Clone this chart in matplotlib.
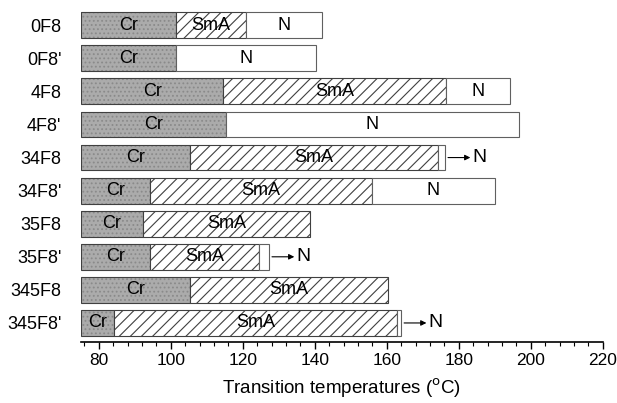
import matplotlib
matplotlib.use('Agg')
import matplotlib.pyplot as plt
from matplotlib.ticker import MultipleLocator

plt.rcParams['font.family'] = ['Liberation Sans', 'DejaVu Sans']
plt.rcParams['hatch.linewidth'] = 0.8

# compounds, top to bottom
compounds = ["0F8", "0F8'", "4F8", "4F8'", "34F8", "34F8'", "35F8", "35F8'", "345F8", "345F8'"]
# transition temperatures (deg C): end of Cr, end of SmA, end of N (None = phase absent)
cr_end = [101.4, 101.4, 114.6, 115.4, 105.4, 94.2, 92.3, 94.2, 105.3, 84.2]
sma_end = [121.0, None, 176.4, None, 174.2, 155.9, 138.7, 124.5, 160.2, 162.7]
n_end = [141.9, 140.2, 194.3, 196.6, 176.2, 190.0, None, 127.3, None, 164.0]
# short N range shown with an arrow label
arrow_n = [False, False, False, False, True, False, False, True, False, True]
show_n_text = [True, True, True, True, False, True, False, False, False, False]

x_start = 75

fig = plt.figure(figsize=(6.17, 4.03), dpi=100)
ax = fig.add_axes([0.131, 0.151, 0.846, 0.834])

h = 0.78
edge = '#404040'
for i, name in enumerate(compounds):
    # Cr segment
    ax.barh(i, cr_end[i] - x_start, left=x_start, height=h, color='#ababab',
            edgecolor='#8a8a8a', hatch='....', linewidth=0)
    ax.barh(i, cr_end[i] - x_start, left=x_start, height=h, fill=False,
            edgecolor=edge, linewidth=0.8)
    ax.text((x_start + cr_end[i]) / 2, i, 'Cr', ha='center', va='center', fontsize=13)
    last = cr_end[i]
    if sma_end[i] is not None:
        ax.barh(i, sma_end[i] - last, left=last, height=h, color='white',
                edgecolor=edge, hatch='///', linewidth=0.8)
        ax.text((last + sma_end[i]) / 2, i, 'SmA', ha='center', va='center', fontsize=13)
        last = sma_end[i]
    if n_end[i] is not None:
        ax.barh(i, n_end[i] - last, left=last, height=h, color='white',
                edgecolor='#606060', linewidth=0.8)
        if show_n_text[i]:
            ax.text((last + n_end[i]) / 2, i, 'N', ha='center', va='center', fontsize=13)
        last = n_end[i]
    if arrow_n[i]:
        ax.annotate('', xy=(last + 7, i), xytext=(last + 0.8, i),
                    arrowprops=dict(arrowstyle='-|>', color='black', lw=0.8,
                                    mutation_scale=8, shrinkA=0, shrinkB=0))
        ax.text(last + 7.6, i, 'N', ha='left', va='center', fontsize=14)

ax.set_xlim(x_start, 220)
ax.set_ylim(len(compounds) - 1 + 0.58, -0.58)
ax.set_yticks(range(len(compounds)))
ax.set_yticklabels(compounds, fontsize=13)
ax.tick_params(axis='y', length=0, pad=14)
ax.set_xticks(range(80, 221, 20))
ax.xaxis.set_minor_locator(MultipleLocator(4))
ax.tick_params(axis='x', which='major', length=5, width=1, direction='out', labelsize=12.5, pad=3)
ax.tick_params(axis='x', which='minor', length=3, width=0.8, direction='out')
for s in ['top', 'right', 'left']:
    ax.spines[s].set_visible(False)
ax.spines['bottom'].set_linewidth(1.2)
ax.set_xlabel('Transition temperatures ($^{\\mathrm{o}}$C)', fontsize=13.5, labelpad=6)

fig.savefig('out.png', dpi=100)
